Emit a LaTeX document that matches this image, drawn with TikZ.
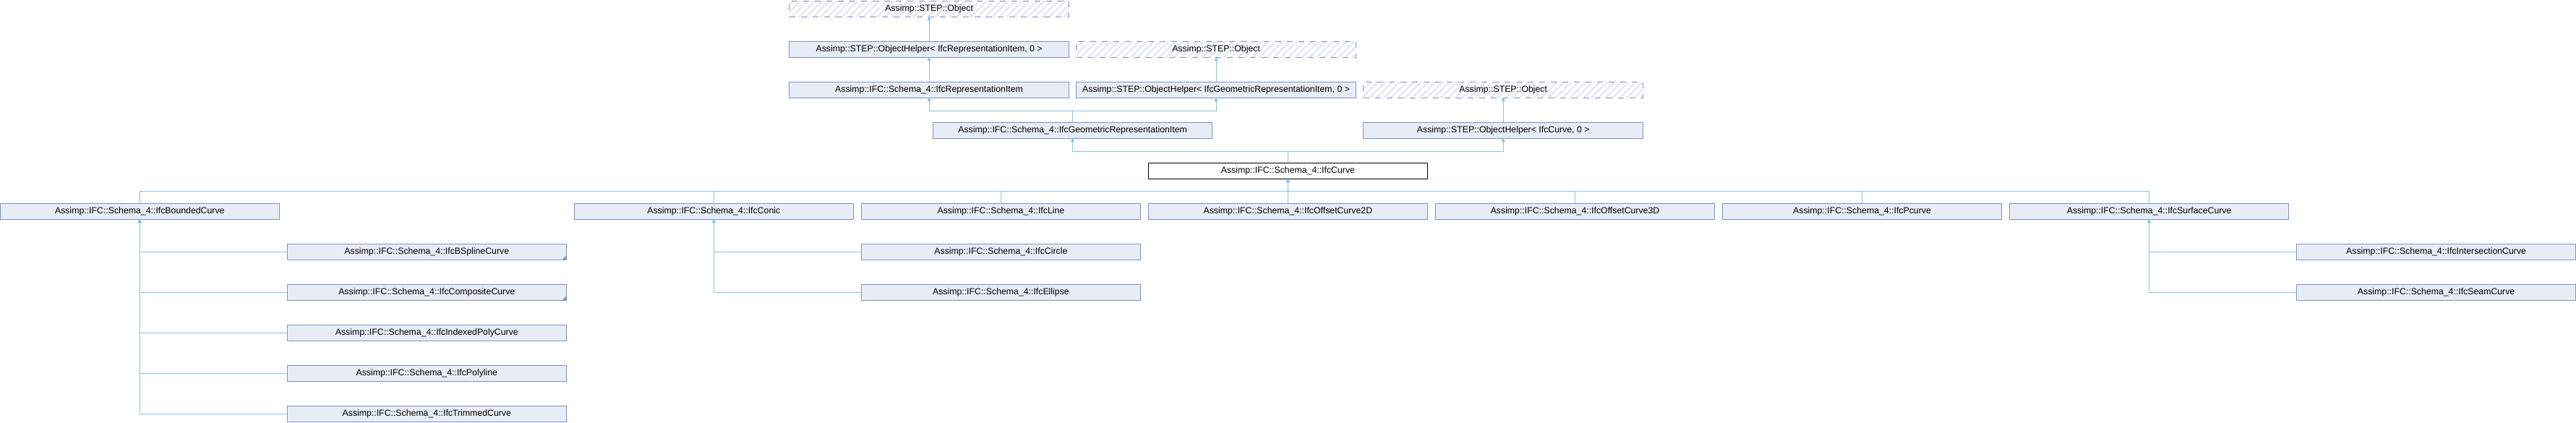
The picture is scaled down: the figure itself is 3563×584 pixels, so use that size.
\documentclass[tikz,border=0pt]{standalone}
\usepackage{fontspec}
\setmainfont{Liberation Sans}
\usetikzlibrary{arrows.meta, patterns.meta}
\usepackage{xcolor}
\definecolor{cls-border}{RGB}{124,147,201}
\definecolor{cls-fill}{RGB}{232,236,245}
\definecolor{hatch-color}{RGB}{228,233,243}
\definecolor{inh-color}{RGB}{136,196,234}

\begin{document}
\begin{tikzpicture}[
  x = 1pt, y = -1pt,
  every node/.style = {font=\fontsize{12.3}{14}\selectfont, inner sep=0pt, outer sep=0pt},
  % Box styles
  clsbox/.style    = {draw=cls-border, fill=cls-fill, line width=1pt,
                      minimum width=386.5pt, minimum height=22pt},
  curbox/.style    = {draw=black, fill=white, line width=1pt,
                      minimum width=386.5pt, minimum height=22pt},
  hiddenbox/.style = {draw=cls-border, line width=1pt, dash pattern=on 8pt off 8pt,
                      pattern={Lines[angle=45, distance=7pt, line width=2.5pt]},
                      pattern color=hatch-color,
                      minimum width=386.5pt, minimum height=22pt},
  % Arrow styles
  inharrow/.style  = {-{Triangle[length=5pt, width=5pt]}, line width=1pt, inh-color},
  moremark/.style  = {fill=cls-border},
]
\useasboundingbox (0,0) rectangle (3563,584);

% ── Base classes ───────────────────────────────────────────────────────────────

\node[hiddenbox] (obj1)        at (1285.1, 12)  {Assimp::STEP::Object};
\node[clsbox]    (helperRep)   at (1285.1, 68)  {Assimp::STEP::ObjectHelper< IfcRepresentationItem, 0 >};
\node[hiddenbox] (obj2)        at (1682.1, 68)  {Assimp::STEP::Object};
\node[clsbox]    (repItem)     at (1285.1, 124) {Assimp::IFC::Schema\_4::IfcRepresentationItem};
\node[clsbox]    (helperGeom)  at (1682.1, 124) {Assimp::STEP::ObjectHelper< IfcGeometricRepresentationItem, 0 >};
\node[hiddenbox] (obj3)        at (2079.2, 124) {Assimp::STEP::Object};
\node[clsbox]    (geomItem)    at (1483.6, 180) {Assimp::IFC::Schema\_4::IfcGeometricRepresentationItem};
\node[clsbox]    (helperCurve) at (2079.2, 180) {Assimp::STEP::ObjectHelper< IfcCurve, 0 >};

% IfcCurve (current class)
\node[curbox]    (curve)       at (1781.4, 236) {Assimp::IFC::Schema\_4::IfcCurve};

% ── Derived classes ────────────────────────────────────────────────────────────

\node[clsbox] (bounded)  at (193.3, 292)  {Assimp::IFC::Schema\_4::IfcBoundedCurve};
\node[clsbox] (conic)    at (987.3, 292)  {Assimp::IFC::Schema\_4::IfcConic};
\node[clsbox] (line)     at (1384.4, 292) {Assimp::IFC::Schema\_4::IfcLine};
\node[clsbox] (offset2d) at (1781.4, 292) {Assimp::IFC::Schema\_4::IfcOffsetCurve2D};
\node[clsbox] (offset3d) at (2178.5, 292) {Assimp::IFC::Schema\_4::IfcOffsetCurve3D};
\node[clsbox] (pcurve)   at (2575.5, 292) {Assimp::IFC::Schema\_4::IfcPcurve};
\node[clsbox] (surface)  at (2972.6, 292) {Assimp::IFC::Schema\_4::IfcSurfaceCurve};

% bounded curves
\node[clsbox] (bspline)     at (590.3, 348) {Assimp::IFC::Schema\_4::IfcBSplineCurve};
\node[clsbox] (composite)   at (590.3, 404) {Assimp::IFC::Schema\_4::IfcCompositeCurve};
\node[clsbox] (indexedpoly) at (590.3, 460) {Assimp::IFC::Schema\_4::IfcIndexedPolyCurve};
\node[clsbox] (polyline)    at (590.3, 516) {Assimp::IFC::Schema\_4::IfcPolyline};
\node[clsbox] (trimmed)     at (590.3, 572) {Assimp::IFC::Schema\_4::IfcTrimmedCurve};

% conics
\node[clsbox] (circle)  at (1384.4, 348) {Assimp::IFC::Schema\_4::IfcCircle};
\node[clsbox] (ellipse) at (1384.4, 404) {Assimp::IFC::Schema\_4::IfcEllipse};

% surface curves
\node[clsbox] (intersection) at (3369.6, 348) {Assimp::IFC::Schema\_4::IfcIntersectionCurve};
\node[clsbox] (seam)         at (3369.6, 404) {Assimp::IFC::Schema\_4::IfcSeamCurve};

% more children marks
\foreach \n in {bspline, composite}
  \fill[moremark] (\n.south east) -- ++(-6,0) -- ++(6,-6) -- cycle;

% ── Arrows ─────────────────────────────────────────────────────────────────────

\draw[inharrow] (helperRep) -- (obj1);
\draw[inharrow] (repItem) -- (helperRep);
\draw[inharrow] (helperGeom) -- (obj2);
\draw[inharrow] (helperCurve) -- (obj3);

\draw[inharrow] (geomItem.north) -- ++(0,-16) -| (repItem);
\draw[inharrow] (geomItem.north) -- ++(0,-16) -| (helperGeom);

\draw[inharrow] (curve.north) -- ++(0,-16) -| (geomItem);
\draw[inharrow] (curve.north) -- ++(0,-16) -| (helperCurve);

\foreach \n in {bounded, conic, line, offset3d, pcurve, surface}
  \draw[inharrow] (\n.north) -- ++(0,-17) -| (curve);
\draw[inharrow] (offset2d) -- (curve);

\foreach \n in {bspline, composite, indexedpoly, polyline, trimmed}
  \draw[inharrow] (\n.west) -| (bounded);
\foreach \n in {circle, ellipse}
  \draw[inharrow] (\n.west) -| (conic);
\foreach \n in {intersection, seam}
  \draw[inharrow] (\n.west) -| (surface);

\end{tikzpicture}
\end{document}
